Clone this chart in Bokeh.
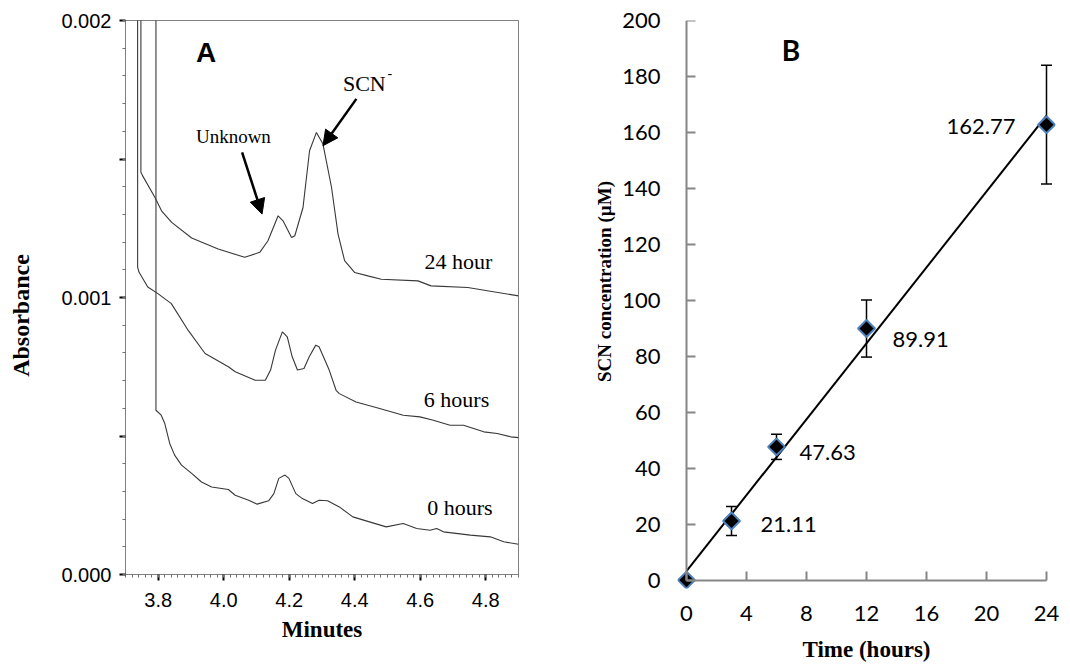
import numpy as np
from bokeh.plotting import figure
from bokeh.layouts import row
from bokeh.models import (FixedTicker, LinearAxis, Range1d, Label, Arrow, NormalHead,
                          Whisker, TeeHead, ColumnDataSource, NumeralTickFormatter)
from bokeh.embed import file_html
from bokeh.resources import INLINE

# ---------------- Panel A data (minutes, absorbance in 1e-3 AU) ----------------
t_0h = [3.793, 3.793, 3.809, 3.820, 3.835, 3.850, 3.871, 3.902, 3.932, 3.963, 4.014, 4.035,
        4.076, 4.102, 4.137, 4.153, 4.168, 4.187, 4.199, 4.220, 4.240, 4.271, 4.291, 4.317,
        4.353, 4.394, 4.445, 4.496, 4.548, 4.589, 4.630, 4.650, 4.671, 4.753, 4.814, 4.855, 4.900]
a_0h = [2.600, 0.593, 0.575, 0.545, 0.473, 0.431, 0.395, 0.365, 0.334, 0.316, 0.307, 0.286,
        0.268, 0.254, 0.266, 0.292, 0.347, 0.359, 0.347, 0.292, 0.274, 0.256, 0.268, 0.266,
        0.244, 0.208, 0.190, 0.172, 0.184, 0.166, 0.160, 0.166, 0.154, 0.142, 0.136, 0.118, 0.109]

t_6h = [3.737, 3.737, 3.741, 3.768, 3.799, 3.840, 3.891, 3.943, 4.014, 4.035, 4.096, 4.127,
        4.143, 4.158, 4.179, 4.194, 4.209, 4.225, 4.245, 4.261, 4.281, 4.291, 4.322, 4.343,
        4.353, 4.404, 4.476, 4.548, 4.599, 4.640, 4.691, 4.732, 4.794, 4.835, 4.876, 4.900]
a_6h = [2.600, 1.110, 1.092, 1.038, 1.014, 0.978, 0.882, 0.798, 0.750, 0.732, 0.701, 0.701,
        0.738, 0.810, 0.876, 0.858, 0.786, 0.738, 0.744, 0.786, 0.828, 0.822, 0.738, 0.665,
        0.653, 0.623, 0.599, 0.575, 0.569, 0.557, 0.539, 0.539, 0.515, 0.509, 0.497, 0.494]

t_24h = [3.747, 3.747, 3.752, 3.790, 3.810, 3.841, 3.902, 3.983, 4.064, 4.110, 4.135, 4.166,
         4.181, 4.207, 4.217, 4.242, 4.262, 4.283, 4.303, 4.329, 4.349, 4.369, 4.400, 4.440,
         4.481, 4.593, 4.633, 4.745, 4.900]
a_24h = [2.600, 1.452, 1.440, 1.361, 1.313, 1.271, 1.215, 1.175, 1.145, 1.163, 1.205, 1.295,
         1.277, 1.217, 1.223, 1.325, 1.530, 1.596, 1.554, 1.398, 1.229, 1.133, 1.090, 1.078,
         1.066, 1.060, 1.042, 1.036, 1.006]

a_ticks = [0.0, 0.0005, 0.001, 0.0015, 0.002]
a_tick_labels = ["0.000", "", "0.001", "", "0.002"]
x_ticks_a = [3.8, 4.0, 4.2, 4.4, 4.6, 4.8]

# ---------------- Panel B data ----------------
hours = [0, 3, 6, 12, 24]
scn = [0.0, 21.11, 47.63, 89.91, 162.77]
scn_err = [0.0, 5.2, 4.5, 10.2, 21.2]
b_x_ticks = [0, 4, 8, 12, 16, 20, 24]
b_y_ticks = [0, 20, 40, 60, 80, 100, 120, 140, 160, 180, 200]

SERIF = "Liberation Serif"
SANS = "Liberation Sans"
CAL = "Lato"
H = 664


def title_strip(width, text, x, y, size):
    """Narrow blank figure that holds a vertical axis title."""
    f = figure(x_range=Range1d(0, width), y_range=Range1d(0, H),
               frame_width=width, frame_height=H, title=None,
               min_border_left=0, min_border_right=0, min_border_top=0, min_border_bottom=0,
               x_axis_location=None, y_axis_location=None,
               output_backend="svg", toolbar_location=None)
    f.xgrid.visible = False
    f.ygrid.visible = False
    f.outline_line_color = None
    f.add_layout(Label(x=x, y=y, text=text, angle=np.pi / 2,
                       text_align="center", text_baseline="middle", text_font=SERIF,
                       text_font_size=size, text_font_style="bold", text_color="black"))
    return f


def txt(p, x, y, text, font, size, bold=False):
    p.add_layout(Label(x=x, y=y, text=text, text_font=font, text_font_size=size,
                       text_font_style="bold" if bold else "normal", text_color="black",
                       text_baseline="middle", text_align="left"))


# ============ Panel A ============
pa = figure(x_range=Range1d(3.7, 4.9), y_range=Range1d(0, 0.002),
            frame_width=393, frame_height=554, title=None,
            min_border_left=85, min_border_top=20, min_border_right=10,
            min_border_bottom=H - 20 - 554,
            output_backend="svg", toolbar_location=None)
pa.xgrid.visible = False
pa.ygrid.visible = False
pa.outline_line_color = "#808080"
pa.outline_line_width = 1

trace_col = "#383838"
for tt, aa in [(t_0h, a_0h), (t_6h, a_6h), (t_24h, a_24h)]:
    pa.line(tt, np.array(aa) * 1e-3, line_color=trace_col, line_width=1.1)

ya = pa.yaxis[0]
ya.ticker = FixedTicker(ticks=a_ticks,
                        minor_ticks=[round(i * 0.0001, 4) for i in range(0, 21)])
ya.major_label_overrides = {t: l for t, l in zip(a_ticks, a_tick_labels)}
xa = pa.xaxis[0]
xa.ticker = FixedTicker(ticks=x_ticks_a,
                        minor_ticks=[round(3.7 + i * 0.02, 2) for i in range(0, 61)])
xa.formatter = NumeralTickFormatter(format="0.0")
for ax in (xa, ya):
    ax.axis_line_color = "#808080"
    ax.axis_line_width = 1
    ax.major_tick_line_color = "black"
    ax.major_tick_line_width = 2
    ax.major_tick_out = 6
    ax.major_tick_in = 0
    ax.minor_tick_line_color = "#707070"
    ax.minor_tick_line_width = 1
    ax.minor_tick_out = 3
    ax.minor_tick_in = 0
    ax.major_label_text_font = SANS
    ax.major_label_text_font_size = "20px"
    ax.major_label_text_color = "black"
ya.major_label_standoff = 8
xa.major_label_standoff = 12
xa.axis_label = "Minutes"
xa.axis_label_text_font = SERIF
xa.axis_label_text_font_size = "23px"
xa.axis_label_text_font_style = "bold"
xa.axis_label_text_color = "black"
xa.axis_label_standoff = 7

txt(pa, 3.915, 0.0018837, "A", SANS, "28px", bold=True)
txt(pa, 3.915, 0.0015807, "Unknown", SERIF, "19px")
txt(pa, 4.364, 0.0017711, "SCN", SERIF, "22px")
txt(pa, 4.500, 0.0018100, "-", SERIF, "14px")
txt(pa, 4.613, 0.0011301, "24 hour", SERIF, "22px")
txt(pa, 4.611, 0.0006316, "6 hours", SERIF, "22px")
txt(pa, 4.621, 0.0002404, "0 hours", SERIF, "22px")

pa.add_layout(Arrow(end=NormalHead(size=15, fill_color="black", line_color="black"),
                    x_start=4.056, y_start=0.001524, x_end=4.117, y_end=0.001301,
                    line_width=2.5, line_color="black"))
pa.add_layout(Arrow(end=NormalHead(size=15, fill_color="black", line_color="black"),
                    x_start=4.405, y_start=0.001717, x_end=4.303, y_end=0.001548,
                    line_width=2.5, line_color="black"))

# ============ Panel B ============
pb = figure(x_range=Range1d(-0.6, 24.6), y_range=Range1d(-3, 200),
            frame_width=378, frame_height=568, title=None,
            min_border_left=61, min_border_top=18, min_border_right=8,
            min_border_bottom=H - 18 - 568,
            output_backend="svg", toolbar_location=None)
pb.xgrid.visible = False
pb.ygrid.visible = False
pb.outline_line_color = None

axis_gray = "#868686"
# axis lines + inside ticks drawn at x=0 / y=0
xb = LinearAxis(fixed_location=0, bounds=(0, 24), ticker=FixedTicker(ticks=b_x_ticks))
yb = LinearAxis(fixed_location=0, bounds=(0, 200), ticker=FixedTicker(ticks=b_y_ticks))
for ax in (xb, yb):
    ax.axis_line_color = axis_gray
    ax.axis_line_width = 2
    ax.major_tick_line_color = axis_gray
    ax.major_tick_line_width = 2
    ax.major_tick_in = 9
    ax.major_tick_out = 0
    ax.minor_tick_line_color = None
    ax.major_label_text_color = None
pb.add_layout(xb, "below")
pb.add_layout(yb, "left")

# tick labels + title from the regular axes
xl = pb.xaxis[0]
yl = pb.yaxis[0]
xl.ticker = FixedTicker(ticks=b_x_ticks)
yl.ticker = FixedTicker(ticks=b_y_ticks)
for ax in (xl, yl):
    ax.axis_line_color = None
    ax.major_tick_line_color = None
    ax.minor_tick_line_color = None
    ax.major_tick_out = 0
    ax.major_tick_in = 0
    ax.major_label_text_font = CAL
    ax.major_label_text_font_size = "22px"
    ax.major_label_text_color = "black"
yl.major_label_standoff = 17
xl.major_label_standoff = 17
xl.axis_label = "Time (hours)"
xl.axis_label_text_font = SERIF
xl.axis_label_text_font_size = "23px"
xl.axis_label_text_font_style = "bold"
xl.axis_label_text_color = "black"
xl.axis_label_standoff = 13

slope, intercept = np.polyfit(hours, scn, 1)
fx = np.array([hours[0], hours[-1]])
pb.line(fx, slope * fx + intercept, line_color="black", line_width=2)

src = ColumnDataSource(dict(x=hours, y=scn,
                            lo=np.array(scn) - np.array(scn_err),
                            hi=np.array(scn) + np.array(scn_err)))
pb.add_layout(Whisker(source=src, base="x", lower="lo", upper="hi",
                      line_color="black", line_width=1.5,
                      upper_head=TeeHead(size=11, line_color="black", line_width=1.5),
                      lower_head=TeeHead(size=11, line_color="black", line_width=1.5)))
pb.scatter("x", "y", source=src, marker="square", angle=np.pi / 4, size=12,
           fill_color="black", line_color="#4F81BD", line_width=2)

label_dx = [None, 29, 23, 26, -31]
label_dy = [None, -3, -6, -11, -2]
label_align = [None, "left", "left", "left", "right"]
for h, v, dx, dy, al in zip(hours, scn, label_dx, label_dy, label_align):
    if dx is None:
        continue
    pb.add_layout(Label(x=h, y=v, x_offset=dx, y_offset=dy, text=f"{v:.2f}",
                        text_align=al, text_baseline="middle", text_font=CAL,
                        text_font_size="22px", text_color="black"))

txt(pb, 6.35, 189.3, "B", CAL, "28px", bold=True)

# axis-title strips
tA = title_strip(40, "Absorbance", 20, H - 315 + 20, "24px")
tB = title_strip(88, "SCN concentration (µM)", 76, H - 281 + 20, "19px")

layout = row(tA, pa, tB, pb)
open("out.html", "w").write(file_html(layout, INLINE))
